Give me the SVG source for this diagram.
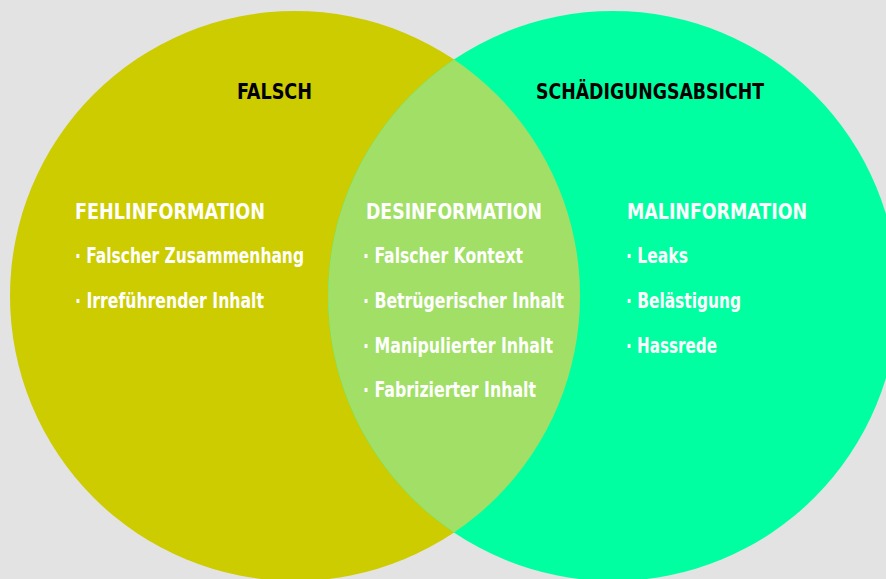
<svg xmlns="http://www.w3.org/2000/svg" width="886" height="579" viewBox="0 0 886 579">
<defs>
<style>
text{font-family:"DejaVu Sans Condensed","DejaVu Sans","Liberation Sans",sans-serif;font-weight:bold;font-size:21px}
.w{fill:#ffffff}
.k{fill:#000000}
</style>
<clipPath id="clipL"><circle cx="295" cy="296" r="285"/></clipPath>
</defs>
<rect width="886" height="579" fill="#e3e3e3"/>
<g id="circle-falsch">
<circle cx="295" cy="296" r="285" fill="#cccc00"/>
</g>
<g id="circle-schaedigung">
<circle cx="613" cy="296" r="285" fill="#00ffa1"/>
</g>
<g id="intersection">
<circle cx="613" cy="296" r="285" fill="#a1df66" clip-path="url(#clipL)"/>
</g>
<g id="labels-top">
<text class="k" x="237" y="99" textLength="75" lengthAdjust="spacingAndGlyphs">FALSCH</text>
<text class="k" x="536" y="99" textLength="228" lengthAdjust="spacingAndGlyphs">SCHÄDIGUNGSABSICHT</text>
</g>
<g id="node-fehlinformation">
<text class="w" x="75" y="219" textLength="190" lengthAdjust="spacingAndGlyphs">FEHLINFORMATION</text>
<text class="w" x="75" y="263" textLength="229" lengthAdjust="spacingAndGlyphs">· Falscher Zusammenhang</text>
<text class="w" x="75" y="308" textLength="189" lengthAdjust="spacingAndGlyphs">· Irreführender Inhalt</text>
</g>
<g id="node-desinformation">
<text class="w" x="366" y="219" textLength="176" lengthAdjust="spacingAndGlyphs">DESINFORMATION</text>
<text class="w" x="363" y="263" textLength="160" lengthAdjust="spacingAndGlyphs">· Falscher Kontext</text>
<text class="w" x="363" y="308" textLength="201" lengthAdjust="spacingAndGlyphs">· Betrügerischer Inhalt</text>
<text class="w" x="363" y="353" textLength="190" lengthAdjust="spacingAndGlyphs">· Manipulierter Inhalt</text>
<text class="w" x="363" y="397" textLength="173" lengthAdjust="spacingAndGlyphs">· Fabrizierter Inhalt</text>
</g>
<g id="node-malinformation">
<text class="w" x="627" y="219" textLength="180" lengthAdjust="spacingAndGlyphs">MALINFORMATION</text>
<text class="w" x="626" y="263" textLength="62" lengthAdjust="spacingAndGlyphs">· Leaks</text>
<text class="w" x="626" y="308" textLength="115" lengthAdjust="spacingAndGlyphs">· Belästigung</text>
<text class="w" x="626" y="353" textLength="91" lengthAdjust="spacingAndGlyphs">· Hassrede</text>
</g>
</svg>
